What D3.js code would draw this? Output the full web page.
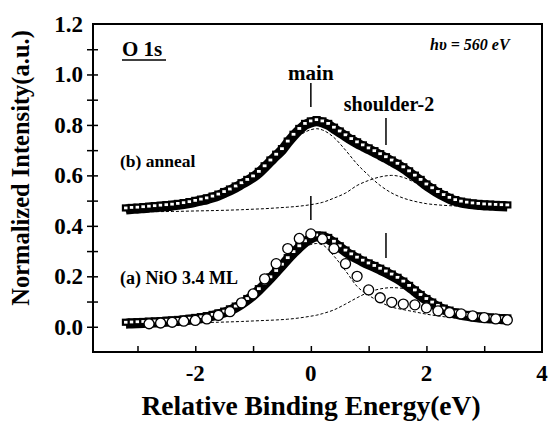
<!DOCTYPE html>
<html>
<head>
<meta charset="utf-8">
<title>O 1s</title>
<script src="https://cdn.jsdelivr.net/npm/d3@7"></script>
<style>
  body { margin: 0; background: #fff; }
  text { font-family: "Liberation Serif", "Times New Roman", serif; font-weight: bold; }
</style>
</head>
<body>
<script>
// O 1s spectra, NiO 3.4 ML and annealed
var w = 550;
var h = 423;
var margin = {left: 93, right: 8, top: 24, bottom: 71};

// energy grid of the measured points (eV), step 0.1
var energy = d3.range(-32, 35).map(function(k) { return k / 10; });

// (b) anneal, squares
var annealVals = [0.465, 0.467, 0.468, 0.470, 0.472, 0.474, 0.476, 0.478, 0.480, 0.483,
  0.486, 0.490, 0.495, 0.500, 0.505, 0.512, 0.520, 0.530, 0.540, 0.552,
  0.565, 0.578, 0.592, 0.610, 0.632, 0.655, 0.678, 0.700, 0.730, 0.757,
  0.780, 0.800, 0.810, 0.815, 0.810, 0.800, 0.785, 0.770, 0.755, 0.740,
  0.727, 0.715, 0.703, 0.692, 0.680, 0.668, 0.655, 0.642, 0.628, 0.612,
  0.595, 0.578, 0.560, 0.545, 0.530, 0.518, 0.507, 0.498, 0.492, 0.488,
  0.485, 0.483, 0.481, 0.480, 0.479, 0.478, 0.477];

// (a) NiO 3.4 ML, squares
var nioVals = [0.012, 0.013, 0.014, 0.015, 0.016, 0.017, 0.018, 0.020, 0.021, 0.023,
  0.025, 0.028, 0.031, 0.034, 0.038, 0.043, 0.049, 0.056, 0.065, 0.076,
  0.090, 0.106, 0.124, 0.145, 0.168, 0.192, 0.217, 0.242, 0.268, 0.292,
  0.315, 0.335, 0.350, 0.358, 0.357, 0.348, 0.333, 0.315, 0.298, 0.283,
  0.270, 0.258, 0.247, 0.237, 0.226, 0.215, 0.203, 0.190, 0.175, 0.158,
  0.140, 0.122, 0.106, 0.092, 0.079, 0.068, 0.060, 0.053, 0.047, 0.043,
  0.040, 0.037, 0.035, 0.033, 0.031, 0.030, 0.029];

// (a) open circles
var circleE = [-2.8, -2.6, -2.4, -2.2, -2.0, -1.8, -1.6, -1.4, -1.2, -1.0, -0.8, -0.6, -0.4, -0.2,
  0.0, 0.2, 0.4, 0.6, 0.8, 1.0, 1.2, 1.4, 1.6, 1.8, 2.0, 2.2, 2.4, 2.6, 2.8, 3.0, 3.2, 3.4];
var circleVals = [0.012, 0.015, 0.018, 0.022, 0.025, 0.031, 0.045, 0.060, 0.095, 0.130, 0.190, 0.250, 0.310, 0.350,
  0.368, 0.348, 0.310, 0.250, 0.200, 0.146, 0.115, 0.097, 0.090, 0.087, 0.075, 0.063, 0.056, 0.051, 0.043, 0.036, 0.031, 0.027];

// fitted components (dashed)
var fitE = [-3.2, -2.8, -2.4, -2.0, -1.6, -1.2, -1.0, -0.8, -0.6, -0.4, -0.2, 0.0, 0.1, 0.2, 0.4, 0.6, 0.8,
  1.0, 1.2, 1.4, 1.6, 1.8, 2.0, 2.2, 2.4, 2.6, 2.8, 3.0, 3.2, 3.4];
var annealMain = [0.458, 0.465, 0.475, 0.491, 0.514, 0.556, 0.580, 0.619, 0.662, 0.711, 0.757, 0.781, 0.785, 0.780, 0.750, 0.700, 0.645,
  0.600, 0.560, 0.530, 0.510, 0.497, 0.488, 0.483, 0.480, 0.478, 0.477, 0.476, 0.475, 0.475];
var annealShoulder = [0.455, 0.456, 0.457, 0.459, 0.461, 0.464, 0.466, 0.468, 0.471, 0.474, 0.478, 0.484, 0.488, 0.493, 0.510, 0.530, 0.560,
  0.580, 0.594, 0.600, 0.592, 0.572, 0.550, 0.522, 0.500, 0.487, 0.481, 0.479, 0.478, 0.477];
var nioMain = [0.010, 0.013, 0.018, 0.027, 0.043, 0.082, 0.113, 0.155, 0.205, 0.255, 0.300, 0.326, 0.330, 0.325, 0.280, 0.222, 0.160,
  0.125, 0.098, 0.078, 0.068, 0.059, 0.050, 0.043, 0.037, 0.032, 0.029, 0.027, 0.026, 0.025];
var nioShoulder = [0.012, 0.013, 0.014, 0.016, 0.018, 0.021, 0.023, 0.025, 0.027, 0.030, 0.035, 0.042, 0.046, 0.052, 0.067, 0.090, 0.115,
  0.137, 0.150, 0.155, 0.152, 0.140, 0.118, 0.094, 0.070, 0.050, 0.040, 0.034, 0.030, 0.028];

var xTicks = [-2, 0, 2, 4];
var yTicks = [0.0, 0.2, 0.4, 0.6, 0.8, 1.0, 1.2];

window.onload = function() {

  var x = d3.scaleLinear().domain([-3.77, 4]).range([margin.left, w - margin.right]);
  var y = d3.scaleLinear().domain([-0.1, 1.2]).range([h - margin.bottom, margin.top]);

  var svg = d3.select("body")
              .append("svg")
              .attr("width", w)
              .attr("height", h);

  // frame
  svg.append("rect")
     .attr("x", x(-3.77))
     .attr("y", y(1.2))
     .attr("width", x(4) - x(-3.77))
     .attr("height", y(-0.1) - y(1.2))
     .attr("fill", "none")
     .attr("stroke", "#000")
     .attr("stroke-width", 2);

  // x axis: ticks point up into the plot
  var xAxis = svg.append("g")
     .attr("transform", "translate(0," + y(-0.1) + ")")
     .call(d3.axisTop(x).tickValues(d3.range(-3, 4)).tickSize(6).tickFormat(""));
  xAxis.select(".domain").remove();
  xAxis.selectAll("line").attr("stroke-width", 1.5);

  svg.selectAll(".xlab")
     .data(xTicks)
     .enter()
     .append("text")
     .attr("class", "xlab")
     .attr("x", function(d) { return x(d); })
     .attr("y", y(-0.1) + 29)
     .attr("text-anchor", "middle")
     .attr("font-size", 23)
     .text(function(d) { return d < 0 ? "-" + Math.abs(d) : d; });

  // y axis: ticks across the left edge
  var yAxis = svg.append("g")
     .attr("transform", "translate(" + (x(-3.77) + 5) + ",0)")
     .call(d3.axisLeft(y).tickValues(d3.range(0, 12).map(function(k) { return k / 10; })).tickSize(11).tickFormat(""));
  yAxis.select(".domain").remove();
  yAxis.selectAll("line").attr("stroke-width", 1.5);

  svg.selectAll(".ylab")
     .data(yTicks)
     .enter()
     .append("text")
     .attr("class", "ylab")
     .attr("x", x(-3.77) - 10)
     .attr("y", function(d) { return y(d) + 8; })
     .attr("text-anchor", "end")
     .attr("font-size", 23)
     .text(function(d) { return d.toFixed(1); });

  svg.append("text")
     .attr("x", 311)
     .attr("y", 415)
     .attr("text-anchor", "middle")
     .attr("font-size", 27.5)
     .text("Relative Binding Energy(eV)");

  svg.append("text")
     .attr("transform", "translate(29,168) rotate(-90)")
     .attr("text-anchor", "middle")
     .attr("font-size", 24.5)
     .text("Normalized Intensity(a.u.)");

  var line = d3.line()
               .x(function(d) { return x(d[0]); })
               .y(function(d) { return y(d[1]); })
               .curve(d3.curveMonotoneX);

  function pairs(xs, ys) {
    return xs.map(function(e, i) { return [e, ys[i]]; });
  }

  // dashed fit components
  [annealMain, annealShoulder, nioMain, nioShoulder].forEach(function(vals) {
    svg.append("path")
       .datum(pairs(fitE, vals))
       .attr("d", line)
       .attr("fill", "none")
       .attr("stroke", "#000")
       .attr("stroke-width", 1)
       .attr("stroke-dasharray", "3,2");
  });

  // square data: dense band
  [annealVals, nioVals].forEach(function(vals) {
    var pts = pairs(energy, vals);
    svg.append("path")
       .datum(pts)
       .attr("d", line)
       .attr("fill", "none")
       .attr("stroke", "#000")
       .attr("stroke-width", 10);
    svg.append("g")
       .selectAll("rect")
       .data(pts)
       .enter()
       .append("rect")
       .attr("x", function(d) { return x(d[0]) - 3; })
       .attr("y", function(d) { return y(d[1]) - 4; })
       .attr("width", 6)
       .attr("height", 5)
       .attr("fill", "#fff")
       .attr("stroke", "#000")
       .attr("stroke-width", 2.2);
  });

  // open circles
  svg.append("g")
     .selectAll("circle")
     .data(pairs(circleE, circleVals))
     .enter()
     .append("circle")
     .attr("cx", function(d) { return x(d[0]); })
     .attr("cy", function(d) { return y(d[1]); })
     .attr("r", 5)
     .attr("fill", "#fff")
     .attr("stroke", "#000")
     .attr("stroke-width", 1.3);

  // annotations
  svg.append("text").attr("x", 122).attr("y", 56).attr("font-size", 21).text("O 1s");
  svg.append("line").attr("x1", 122).attr("x2", 166).attr("y1", 60).attr("y2", 60)
     .attr("stroke", "#000").attr("stroke-width", 1.5);

  svg.append("text").attr("x", 430).attr("y", 50).attr("font-size", 16)
     .attr("font-style", "italic").text("hυ = 560 eV");

  svg.append("text").attr("x", x(0)).attr("y", 80).attr("text-anchor", "middle")
     .attr("font-size", 21).text("main");
  svg.append("text").attr("x", 389).attr("y", 111).attr("text-anchor", "middle")
     .attr("font-size", 20).text("shoulder-2");

  svg.append("text").attr("x", 120).attr("y", 167).attr("font-size", 17.5).text("(b) anneal");
  svg.append("text").attr("x", 120).attr("y", 284).attr("font-size", 18).text("(a) NiO 3.4 ML");

  // peak markers
  var marks = [[0, 83, 107], [1.3, 118, 145], [0, 196, 220], [1.3, 233, 258]];
  marks.forEach(function(m) {
    svg.append("line")
       .attr("x1", x(m[0])).attr("x2", x(m[0]))
       .attr("y1", m[1]).attr("y2", m[2])
       .attr("stroke", "#000").attr("stroke-width", 1.5);
  });
};
</script>
</body>
</html>
